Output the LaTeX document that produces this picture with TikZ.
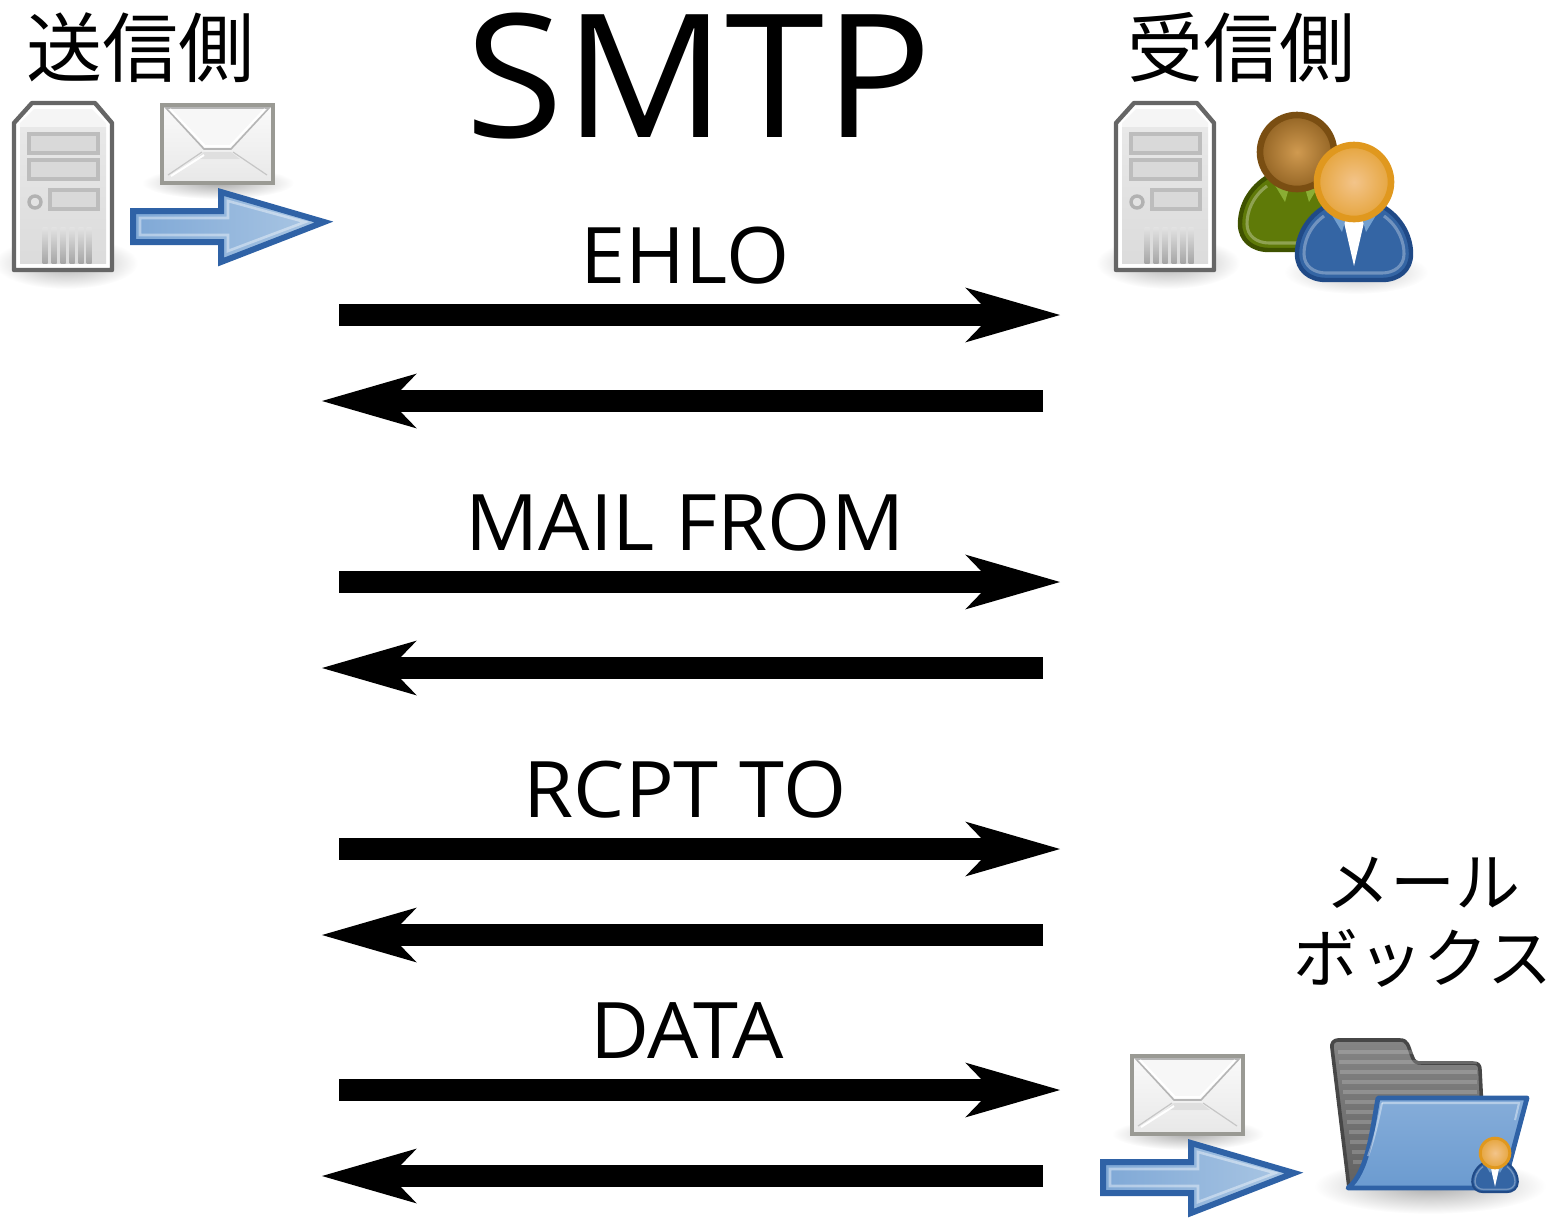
\documentclass[tikz,border=0pt]{standalone}
\usepackage{fontspec}
\setmainfont{Open Sans}
\newfontfamily\latinwide[FakeStretch=1.04]{Open Sans}
\newfontfamily\cjk{Noto Sans CJK JP}
\usetikzlibrary{arrows.meta}

\definecolor{srvedge}{HTML}{666666}
\definecolor{envedge}{HTML}{9A9A94}
\definecolor{blueedge}{HTML}{2F62A6}
\definecolor{bluefill}{HTML}{7FA8D6}
\definecolor{bluelight}{HTML}{ABC7E4}
\definecolor{foldertop}{HTML}{86ADD9}
\definecolor{folderbottom}{HTML}{6B9BD0}
\definecolor{greenbody}{HTML}{5F7A08}
\definecolor{greenedge}{HTML}{3F5200}
\definecolor{greencollar}{HTML}{8AAE34}
\definecolor{bluebody}{HTML}{3465A4}
\definecolor{bluedark}{HTML}{204A87}
\definecolor{bluecollar}{HTML}{729FCF}
\definecolor{headbrown}{HTML}{D09A50}
\definecolor{headbrownedge}{HTML}{7A4E12}
\definecolor{headorange}{HTML}{F3C48A}
\definecolor{headorangeedge}{HTML}{E0981E}

\tikzset{
  pics/servericon/.style={code={
    \shade[inner color=gray!65, outer color=white] (52,160) ellipse (72 and 26);
    \draw[srvedge, line width=2.2pt, line join=round, fill=white]
      (0,20) -- (18,0) -- (81,0) -- (98,20) -- (98,167) -- (0,167) -- cycle;
    \fill[gray!8] (6,20) -- (20,6) -- (78,6) -- (92,20) -- (92,24) -- (6,24) -- cycle;
    \shade[top color=gray!18, bottom color=gray!28] (6,24) rectangle (92,160);
    \draw[gray!52, fill=gray!30, line width=1.7pt] (15,31) rectangle (84,50);
    \draw[gray!52, fill=gray!30, line width=1.7pt] (15,57) rectangle (84,76);
    \draw[gray!52, fill=gray!30, line width=1.7pt] (36,87) rectangle (84,106);
    \draw[gray!60, fill=gray!22, line width=1.7pt] (21,99) circle (6);
    \foreach \ventx in {31,40,49,58,67,75}
      \shade[top color=gray!22, bottom color=gray!70] (\ventx-2.5,124) rectangle (\ventx+2.5,160);
  }},
  pics/envelopeicon/.style={code={
    \shade[inner color=gray!65, outer color=white] (56,78) ellipse (76 and 16);
    \draw[envedge, line width=1.8pt, top color=gray!4, bottom color=gray!18] (0,0) rectangle (111,78);
    \fill[gray!25] (42,47) -- (69,47) -- (78,54) -- (34,54) -- cycle;
    \draw[gray!45, line width=0.6pt] (6,70) -- (40,47) (105,70) -- (71,47);
    \draw[white, line width=1pt] (9,71) -- (42,50);
    \draw[gray!58, line width=0.8pt, fill=gray!6] (4,3) -- (42,44) -- (69,44) -- (107,3) -- cycle;
    \draw[white, line width=1pt] (8,4) -- (43,41) -- (68,41) -- (103,4);
  }},
  pics/bluearrowicon/.style={code={
    \draw[blueedge, line width=3pt, miter limit=6, left color=bluefill, right color=bluelight]
      (3,24) -- (91,24) -- (91,5) -- (194,35) -- (91,75) -- (91,55) -- (3,55) -- cycle;
    \draw[white, opacity=0.4, line width=1.3pt]
      (10,31) -- (98,31) -- (98,14) -- (175,35) -- (98,64) -- (98,48) -- (10,48) -- cycle;
  }},
  pics/personicon/.style n args={7}{code={
    \draw[#2, line width=#7, fill=#1] (-24,22) .. controls (-45,32) and (-57,52) .. (-57,72)
      .. controls (-57,88) and (-45,98) .. (-28,98) -- (28,98)
      .. controls (45,98) and (57,88) .. (57,72)
      .. controls (57,52) and (45,32) .. (24,22) -- cycle;
    \draw[white, opacity=0.3, line width=0.7*#7] (-30,34) .. controls (-45,45) and (-50,60) .. (-50,72)
      .. controls (-50,84) and (-40,91) .. (-28,91) -- (28,91)
      .. controls (40,91) and (50,84) .. (50,72)
      .. controls (50,60) and (45,45) .. (30,34);
    \fill[#4] (-11,36) -- (11,36) -- (0,84) -- cycle;
    \fill[#3] (-24,30) -- (-8,36) -- (-12,50) -- cycle;
    \fill[#3] (24,30) -- (8,36) -- (12,50) -- cycle;
    \shade[draw=#6, line width=1.5*#7, inner color=#5, outer color=#6!70!#5] (0,0) circle (37);
  }},
  pics/foldericon/.style={code={
    \shade[inner color=gray!65, outer color=white] (98,146) ellipse (116 and 28);
    \draw[black!72, line width=1.8pt, line join=round, top color=black!48, bottom color=black!62]
      (17,148) -- (0,8) .. controls (-1,3) and (2,0) .. (6,0) -- (68,0)
      .. controls (76,0) and (76,6) .. (80,16) .. controls (82,22) and (84,23) .. (90,23)
      -- (141,23) .. controls (146,23) and (148,25) .. (148,30) -- (150,70) -- (30,140) -- cycle;
    \foreach \stripey in {12,22,...,122}
      \draw[white, opacity=0.18, line width=1.8pt] (4+\stripey*0.14,\stripey) -- (145,\stripey);
    \draw[blueedge, line width=2.4pt, line join=round, top color=foldertop, bottom color=folderbottom]
      (46,58) -- (195,58) -- (171,148) -- (16,148) .. controls (36,132) and (40,90) .. cycle;
    \draw[white, opacity=0.4, line width=1pt] (50,63) -- (187,63) -- (183,80);
    \draw[white, opacity=0.4, line width=1pt] (50,63) .. controls (46,82) and (42,100) .. (36,116);
  }}
}

\begin{document}
\begin{tikzpicture}[
    x=0.5pt, y=-0.5pt,
    heading/.style={font=\cjk\fontsize{38}{40}\selectfont, anchor=base, inner sep=0pt},
    kanalabel/.style={font=\cjk\fontsize{32.5}{36}\selectfont, anchor=base, inner sep=0pt},
    titlelabel/.style={font=\latinwide\fontsize{86}{88}\selectfont, anchor=base, inner sep=0pt},
    msglabel/.style={font=\latinwide\fontsize{39}{42}\selectfont, anchor=base, inner sep=0pt},
    msgarrow/.style={-{Stealth[length=46.5pt, width=26pt, inset=12pt]}, line width=11pt}
  ]
  \useasboundingbox (0,0) rectangle (1552,1217);

  % Headings
  \node[titlelabel] (title) at (699,137) {SMTP};
  \node[heading] (sender) at (140,76) {送信側};
  \node[heading] (receiver) at (1241,76) {受信側};
  \node[kanalabel] (mailbox1) at (1423,906) {メール};
  \node[kanalabel] (mailbox2) at (1423,982) {ボックス};

  % Icons
  \pic at (14,103) {servericon};
  \pic at (162,105) {envelopeicon};
  \pic at (130,187) {bluearrowicon};
  \pic at (1116,103) {servericon};
  \pic at (1297,152) {personicon={greenbody}{greenedge}{greencollar}{greenbody}{headbrown}{headbrownedge}{2.2pt}};
  \shade[inner color=gray!50, outer color=white] (1356,272) ellipse (72 and 22);
  \pic at (1354,182) {personicon={bluebody}{bluedark}{bluecollar}{white}{headorange}{headorangeedge}{2.2pt}};
  \pic at (1132,1056) {envelopeicon};
  \pic at (1100,1138) {bluearrowicon};
  \pic at (1332,1040) {foldericon};
  \pic[scale=0.4] at (1495,1153) {personicon={bluebody}{bluedark}{bluecollar}{white}{headorange}{headorangeedge}{1pt}};

  % End points
  \coordinate (ehlosend) at (339,315);
  \coordinate (ehlorecv) at (1061,315);
  \coordinate (ehloback) at (1043,401);
  \coordinate (ehlodone) at (321,401);
  \coordinate (mailsend) at (339,582);
  \coordinate (mailrecv) at (1061,582);
  \coordinate (mailback) at (1043,668);
  \coordinate (maildone) at (321,668);
  \coordinate (rcptsend) at (339,849);
  \coordinate (rcptrecv) at (1061,849);
  \coordinate (rcptback) at (1043,935);
  \coordinate (rcptdone) at (321,935);
  \coordinate (datasend) at (339,1090);
  \coordinate (datarecv) at (1061,1090);
  \coordinate (databack) at (1043,1176);
  \coordinate (datadone) at (321,1176);

  % Arrows
  \draw[msgarrow] (ehlosend) -- (ehlorecv);
  \draw[msgarrow] (ehloback) -- (ehlodone);
  \draw[msgarrow] (mailsend) -- (mailrecv);
  \draw[msgarrow] (mailback) -- (maildone);
  \draw[msgarrow] (rcptsend) -- (rcptrecv);
  \draw[msgarrow] (rcptback) -- (rcptdone);
  \draw[msgarrow] (datasend) -- (datarecv);
  \draw[msgarrow] (databack) -- (datadone);

  % Labels
  \node[msglabel] (ehlo) at (685,283) {EHLO};
  \node[msglabel] (mailfrom) at (685,550) {MAIL FROM};
  \node[msglabel] (rcptto) at (685,817) {RCPT TO};
  \node[msglabel] (data) at (687,1058) {DATA};
\end{tikzpicture}
\end{document}
